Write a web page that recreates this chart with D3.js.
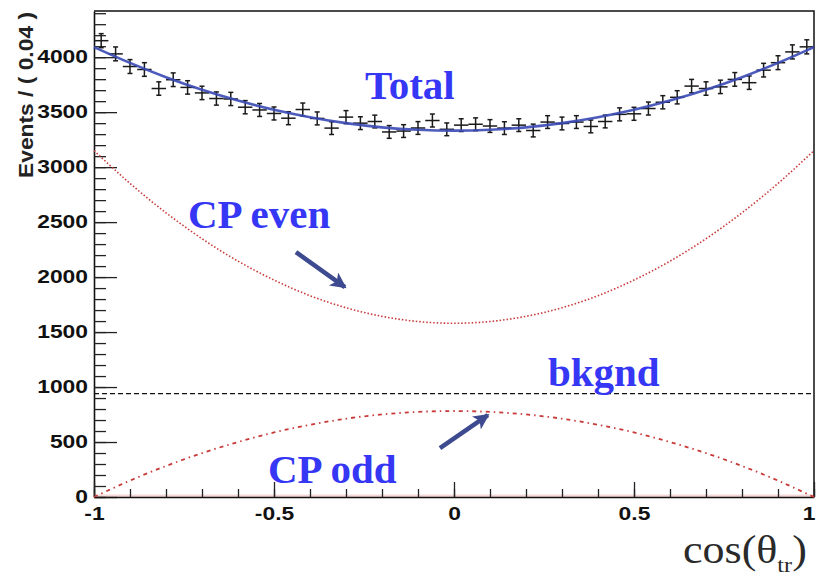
<!DOCTYPE html>
<html lang="en">
<head>
<meta charset="UTF-8">
<script src="https://d3js.org/d3.v7.min.js"></script>
<title>cos theta_tr</title>
<style>
  body { margin: 0; background: #fff; }
</style>
</head>
<body>
<div id="container"></div>
<script>
// data: bin centres (width 0.04), events per bin and errors
const binWidth = 0.04;
const binCenters = [-0.98, -0.94, -0.90, -0.86, -0.82, -0.78, -0.74, -0.70, -0.66, -0.62,
    -0.58, -0.54, -0.50, -0.46, -0.42, -0.38, -0.34, -0.30, -0.26, -0.22,
    -0.18, -0.14, -0.10, -0.06, -0.02, 0.02, 0.06, 0.10, 0.14, 0.18,
    0.22, 0.26, 0.30, 0.34, 0.38, 0.42, 0.46, 0.50, 0.54, 0.58,
    0.62, 0.66, 0.70, 0.74, 0.78, 0.82, 0.86, 0.90, 0.94, 0.98];
const events = [4150, 4030, 3915, 3888, 3715, 3795, 3725, 3675, 3624, 3620,
    3545, 3520, 3488, 3445, 3524, 3443, 3355, 3455, 3400, 3415,
    3320, 3328, 3356, 3424, 3344, 3382, 3390, 3374, 3355, 3382,
    3333, 3410, 3397, 3410, 3370, 3415, 3480, 3485, 3533, 3590,
    3635, 3737, 3715, 3730, 3798, 3768, 3882, 3950, 4048, 4094];
const errors = [64, 63, 63, 62, 61, 62, 61, 61, 60, 60,
    60, 59, 59, 59, 59, 59, 58, 59, 58, 58,
    58, 58, 58, 59, 58, 58, 58, 58, 58, 58,
    58, 58, 58, 58, 58, 58, 59, 59, 59, 60,
    60, 61, 61, 61, 62, 61, 62, 63, 64, 64];

// fit components sampled on a grid
const cosGrid = [-1, -0.9, -0.8, -0.7, -0.6, -0.5, -0.4, -0.3, -0.2, -0.1, 0,
    0.1, 0.2, 0.3, 0.4, 0.5, 0.6, 0.7, 0.8, 0.9, 1];
const totalFit = [4092, 3948, 3818, 3704, 3606, 3522, 3454, 3400, 3362, 3340, 3332,
    3340, 3362, 3400, 3454, 3522, 3606, 3704, 3818, 3948, 4092];
const cpEven = [3150, 2852, 2585, 2349, 2145, 1973, 1831, 1721, 1643, 1596, 1580,
    1596, 1643, 1721, 1831, 1973, 2145, 2349, 2585, 2852, 3150];
const cpOdd = [0, 149, 282, 399, 500, 587, 657, 712, 751, 774, 782,
    774, 751, 712, 657, 587, 500, 399, 282, 149, 0];
const bkgnd = 940;

const yMajor = [0, 500, 1000, 1500, 2000, 2500, 3000, 3500, 4000];
const xMajor = [-1, -0.5, 0, 0.5, 1];

// labels in data coordinates
const labels = [
    {text: "Total", c: -0.247, v: 3618},
    {text: "CP even", c: -0.739, v: 2445},
    {text: "bkgnd", c: 0.261, v: 1009},
    {text: "CP odd", c: -0.517, v: 127}
];
const arrows = [
    {c1: -0.439, v1: 2227, c2: -0.303, v2: 1909},
    {c1: -0.039, v1: 445, c2: 0.094, v2: 745}
];

const width = 816, height = 576;
const svg = d3.select("#container")
    .append("svg")
    .attr("width", width)
    .attr("height", height);

const x = d3.scaleLinear().domain([-1, 1]).range([94, 814]);
const y = d3.scaleLinear().domain([0, 4420]).range([497, 11]);

svg.append("defs")
    .append("marker")
    .attr("id", "arrow")
    .attr("markerUnits", "userSpaceOnUse")
    .attr("markerWidth", 20)
    .attr("markerHeight", 20)
    .attr("refX", 14)
    .attr("refY", 8)
    .attr("orient", "auto")
    .append("path")
    .attr("d", "M0,0 L16,8 L0,16 L4,8 Z")
    .attr("fill", "#3d4a8f");

// faint red zero line under the axis
svg.append("line")
    .attr("x1", x(-1)).attr("x2", x(1))
    .attr("y1", y(0) - 1).attr("y2", y(0) - 1)
    .attr("stroke", "#e89090")
    .attr("stroke-opacity", 0.35)
    .attr("stroke-width", 3);

// frame top / right
svg.append("path")
    .attr("d", `M${x(-1)},${y.range()[1]} L${x(1)},${y.range()[1]} L${x(1)},${y(0)}`)
    .attr("fill", "none")
    .attr("stroke", "#111")
    .attr("stroke-width", 1.5);

// y axis
const yMinor = d3.range(0, 4420, 100);
svg.append("g")
    .attr("transform", `translate(${x(-1)},0)`)
    .call(d3.axisLeft(y).tickValues(yMinor).tickSize(-12).tickSizeOuter(0).tickFormat(""))
    .call(g => g.selectAll("line").attr("stroke", "#222").attr("stroke-width", 1.3))
    .call(g => g.select(".domain").attr("stroke", "#111").attr("stroke-width", 1.6));
svg.append("g")
    .attr("transform", `translate(${x(-1)},0)`)
    .call(d3.axisLeft(y).tickValues(yMajor).tickSize(-23).tickSizeOuter(0).tickPadding(6)
        .tickFormat(d => String(d)))
    .call(g => g.select(".domain").remove())
    .call(g => g.selectAll("line").attr("stroke", "#222").attr("stroke-width", 1.3))
    .call(g => g.selectAll("text")
        .attr("font-family", "Liberation Sans, Arial, sans-serif")
        .attr("font-weight", "bold")
        .attr("font-size", 18)
        .attr("fill", "#111")
        .attr("x", -6 / 1.27)
        .attr("transform", "scale(1.27,1)"));

// x axis
const xMinor = d3.range(-10, 11).map(d => d / 10);
svg.append("g")
    .attr("transform", `translate(0,${y(0)})`)
    .call(d3.axisBottom(x).tickValues(xMinor).tickSize(-8).tickSizeOuter(0).tickFormat(""))
    .call(g => g.selectAll("line").attr("stroke", "#222").attr("stroke-width", 1.3))
    .call(g => g.select(".domain").attr("stroke", "#111").attr("stroke-width", 1.6));
svg.append("g")
    .attr("transform", `translate(0,${y(0)})`)
    .call(d3.axisBottom(x).tickValues(xMajor).tickSize(-15).tickSizeOuter(0).tickPadding(10)
        .tickFormat(d => String(d)))
    .call(g => g.select(".domain").remove())
    .call(g => g.selectAll("line").attr("stroke", "#222").attr("stroke-width", 1.3))
    .call(g => g.selectAll("text")
        .attr("font-family", "Liberation Sans, Arial, sans-serif")
        .attr("font-weight", "bold")
        .attr("font-size", 18)
        .attr("fill", "#111")
        .attr("transform", "scale(1.27,1)"))
    // last label sits on the right edge; keep it inside the picture
    .call(g => g.selectAll("text").filter(d => d === 1)
        .attr("text-anchor", "end")
        .attr("x", 1 / 1.27));

// y title
svg.append("text")
    .attr("transform", "translate(33,178) rotate(-90)")
    .attr("font-family", "Liberation Sans, Arial, sans-serif")
    .attr("font-weight", "bold")
    .attr("font-size", 20)
    .attr("fill", "#222")
    .attr("textLength", 166)
    .attr("lengthAdjust", "spacingAndGlyphs")
    .text("Events / ( 0.04 )");

// x title
const xt = svg.append("text")
    .attr("transform", "translate(683,563) scale(1.1,1)")
    .attr("font-family", "Liberation Serif, Times New Roman, serif")
    .attr("font-size", 40)
    .attr("fill", "#2a2a2a");
xt.append("tspan").text("cos(θ");
xt.append("tspan").attr("font-size", 22).attr("dy", 9).text("tr");
xt.append("tspan").attr("dy", -9).text(")");

// component curves
const line = d3.line()
    .x((d, i) => x(cosGrid[i]))
    .y(d => y(d))
    .curve(d3.curveNatural);

svg.append("path")
    .datum(cpEven)
    .attr("d", line)
    .attr("fill", "none")
    .attr("stroke", "#c83a3a")
    .attr("stroke-width", 1.6)
    .attr("stroke-dasharray", "1.5 2");

svg.append("path")
    .datum(cpOdd)
    .attr("d", line)
    .attr("fill", "none")
    .attr("stroke", "#c83a3a")
    .attr("stroke-width", 1.8)
    .attr("stroke-dasharray", "4 4 1.5 4");

svg.append("line")
    .attr("x1", x(-1)).attr("x2", x(1))
    .attr("y1", y(bkgnd)).attr("y2", y(bkgnd))
    .attr("stroke", "#111")
    .attr("stroke-width", 1.3)
    .attr("stroke-dasharray", "5 3");

// data points with error bars
const pts = svg.append("g")
    .attr("stroke", "#1a1a1a")
    .attr("stroke-width", 1.5)
    .selectAll("g")
    .data(binCenters)
    .enter()
    .append("g");
pts.append("line")
    .attr("x1", d => x(d - binWidth / 2))
    .attr("x2", d => x(d + binWidth / 2))
    .attr("y1", (d, i) => y(events[i]))
    .attr("y2", (d, i) => y(events[i]));
pts.append("line")
    .attr("x1", d => x(d))
    .attr("x2", d => x(d))
    .attr("y1", (d, i) => y(events[i] - errors[i]))
    .attr("y2", (d, i) => y(events[i] + errors[i]));
pts.append("line")
    .attr("x1", d => x(d) - 2.5)
    .attr("x2", d => x(d) + 2.5)
    .attr("y1", (d, i) => y(events[i] - errors[i]))
    .attr("y2", (d, i) => y(events[i] - errors[i]));
pts.append("line")
    .attr("x1", d => x(d) - 2.5)
    .attr("x2", d => x(d) + 2.5)
    .attr("y1", (d, i) => y(events[i] + errors[i]))
    .attr("y2", (d, i) => y(events[i] + errors[i]));

// total fit
svg.append("path")
    .datum(totalFit)
    .attr("d", line)
    .attr("fill", "none")
    .attr("stroke", "#3a4ab5")
    .attr("stroke-opacity", 0.9)
    .attr("stroke-width", 2.6);

// annotations
svg.append("g")
    .selectAll("text")
    .data(labels)
    .enter()
    .append("text")
    .attr("x", d => x(d.c))
    .attr("y", d => y(d.v))
    .attr("font-family", "Liberation Serif, Times New Roman, serif")
    .attr("font-weight", "bold")
    .attr("font-size", 41)
    .attr("fill", "#3636f5")
    .text(d => d.text);

svg.append("g")
    .selectAll("line")
    .data(arrows)
    .enter()
    .append("line")
    .attr("x1", d => x(d.c1))
    .attr("y1", d => y(d.v1))
    .attr("x2", d => x(d.c2))
    .attr("y2", d => y(d.v2))
    .attr("stroke", "#3d4a8f")
    .attr("stroke-width", 4.5)
    .attr("marker-end", "url(#arrow)");
</script>
</body>
</html>
